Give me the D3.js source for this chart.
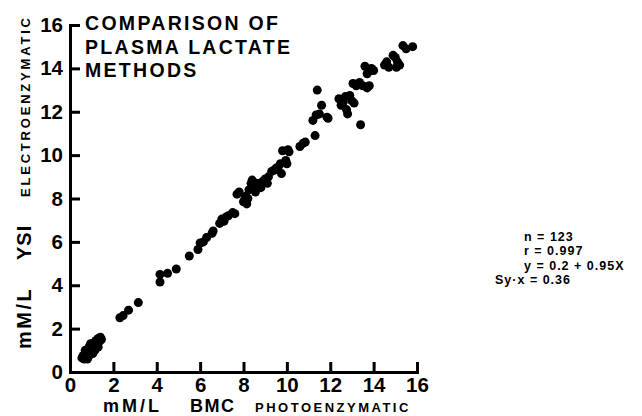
<!DOCTYPE html>
<html>
<head>
<meta charset="utf-8">
<script src="https://cdn.jsdelivr.net/npm/d3@7"></script>
<style>
  body { margin: 0; background: #fff; }
  svg { display: block; font-family: "Liberation Sans", Arial, sans-serif; font-weight: bold; }
</style>
</head>
<body>
<svg id="chart"></svg>
<script>
// BMC photoenzymatic (x) vs YSI electroenzymatic (y), mM/L
var bmc = [0.55,0.6,0.65,0.7,0.75,0.8,0.8,0.85,0.9,0.9,0.95,1.0,1.0,1.05,1.1,1.1,1.15,1.2,1.2,1.25,1.3,1.35,1.4,1.45,0.7,0.95,1.3,0.85,
  2.3,2.45,2.7,3.15,
  4.15,4.15,4.5,4.9,
  5.5,5.9,6.0,6.15,6.3,6.55,6.6,
  6.9,7.0,7.1,7.2,7.3,7.5,7.6,
  7.7,7.8,8.0,8.05,8.15,8.2,8.25,8.35,8.4,8.5,8.6,8.75,8.8,8.9,9.0,9.1,9.15,9.3,9.4,9.6,9.75,9.7,9.95,10.0,8.1,8.55,9.5,
  9.8,10.1,10.05,10.6,10.75,10.85,
  11.3,11.2,11.35,11.5,11.6,11.85,11.9,11.4,
  12.5,12.6,12.7,12.75,12.8,13.0,13.1,12.9,13.4,12.4,
  13.05,13.2,13.35,13.5,13.7,13.8,13.6,13.7,13.85,13.9,14.0,
  14.5,14.6,14.7,14.9,15.0,15.05,15.2,15.1,15.35,15.5,15.8];
var ysi = [0.65,0.75,0.6,0.85,0.7,0.95,0.6,1.05,0.8,1.2,0.9,1.0,1.25,0.85,1.1,1.35,1.0,1.2,1.45,1.3,1.55,1.4,1.6,1.5,1.0,1.3,1.15,0.7,
  2.5,2.6,2.85,3.2,
  4.15,4.5,4.55,4.75,
  5.35,5.65,5.95,6.0,6.2,6.4,6.5,
  6.85,7.05,6.95,7.15,7.2,7.35,7.3,
  8.2,8.3,7.85,7.95,7.75,8.0,8.4,8.7,8.85,8.6,8.7,8.7,8.5,8.8,8.9,8.7,9.0,9.25,9.3,9.45,9.15,9.6,9.75,9.6,8.1,8.3,9.4,
  10.2,10.15,10.25,10.4,10.55,10.6,
  10.9,11.6,11.85,11.9,12.3,11.75,11.7,13.0,
  12.3,12.45,12.7,12.1,11.9,12.5,12.4,12.75,11.4,12.6,
  13.3,13.2,13.35,13.2,13.1,13.2,14.1,13.75,13.9,14.0,13.9,
  14.15,14.3,14.05,14.6,14.5,14.05,14.15,14.3,15.05,14.9,15.0];
var xTicks = [0,2,4,6,8,10,12,14,16];
var yTicks = [0,2,4,6,8,10,12,14,16];
var titleLines = ["COMPARISON OF", "PLASMA LACTATE", "METHODS"];
var statLines = ["n = 123", "r = 0.997", "y = 0.2 + 0.95X"];
var statLast = "Sy\u00B7x = 0.36";

var W = 642, H = 416;
var svg = d3.select("#chart").attr("width", W).attr("height", H);

var x = d3.scaleLinear().domain([0, 16]).range([70, 417]);
var y = d3.scaleLinear().domain([0, 16]).range([372, 25]);

// axes with inward ticks
var gx = svg.append("g").attr("transform", "translate(0,372)")
  .call(d3.axisBottom(x).tickValues(xTicks).tickSizeInner(-10).tickSizeOuter(0).tickPadding(5));
var gy = svg.append("g").attr("transform", "translate(70,0)")
  .call(d3.axisLeft(y).tickValues(yTicks).tickSizeInner(-10).tickSizeOuter(0).tickPadding(7));

[gx, gy].forEach(function(g){
  g.select(".domain").attr("stroke", "#000").attr("stroke-width", 3).attr("stroke-linecap", "square");
  g.selectAll(".tick line").attr("stroke", "#000").attr("stroke-width", 3);
  g.selectAll(".tick text").attr("fill", "#000").style("font-size", "20.5px").style("font-weight", "bold")
    .attr("font-family", null);
});
gy.selectAll(".tick").filter(function(d){ return d === 0; }).select("line").remove();
gx.selectAll(".tick").filter(function(d){ return d === 0; }).select("line").remove();

// points
svg.append("g").selectAll("circle")
  .data(bmc.map(function(v, i){ return [v, ysi[i]]; }))
  .enter().append("circle")
    .attr("cx", function(d){ return x(d[0]); })
    .attr("cy", function(d){ return y(d[1]); })
    .attr("r", 4.5)
    .attr("fill", "#000");

// title
svg.append("g").selectAll("text")
  .data(titleLines)
  .enter().append("text")
    .attr("x", 85)
    .attr("y", function(d, i){ return 30 + i * 23.5; })
    .style("font-size", "19.5px")
    .style("letter-spacing", "2.3px")
    .text(function(d){ return d; });

// x axis title
var xt = svg.append("text").attr("x", 103).attr("y", 412);
xt.append("tspan").style("font-size", "18px").style("letter-spacing", "3px").text("mM/L");
xt.append("tspan").attr("x", 190).style("font-size", "18px").style("letter-spacing", "1.5px").text("BMC");
xt.append("tspan").attr("x", 255).style("font-size", "13px").style("letter-spacing", "2.5px").text("PHOTOENZYMATIC");

// y axis title (rotated)
var yt = svg.append("text").attr("transform", "translate(31,349) rotate(-90)");
yt.append("tspan").style("font-size", "20px").style("letter-spacing", "2.5px").text("mM/L");
yt.append("tspan").attr("x", 89).style("font-size", "20px").style("letter-spacing", "1px").text("YSI");
yt.append("tspan").attr("x", 152).attr("dy", -1).style("font-size", "13px").style("letter-spacing", "2.8px").text("ELECTROENZYMATIC");

// regression stats
svg.append("g").selectAll("text")
  .data(statLines)
  .enter().append("text")
    .attr("x", 524)
    .attr("y", function(d, i){ return 241 + i * 14.3; })
    .style("font-size", "12.5px")
    .style("letter-spacing", "1px")
    .text(function(d){ return d; });
svg.append("text").attr("x", 495).attr("y", 284)
  .style("font-size", "12.5px").style("letter-spacing", "1px").text(statLast);
</script>
</body>
</html>
